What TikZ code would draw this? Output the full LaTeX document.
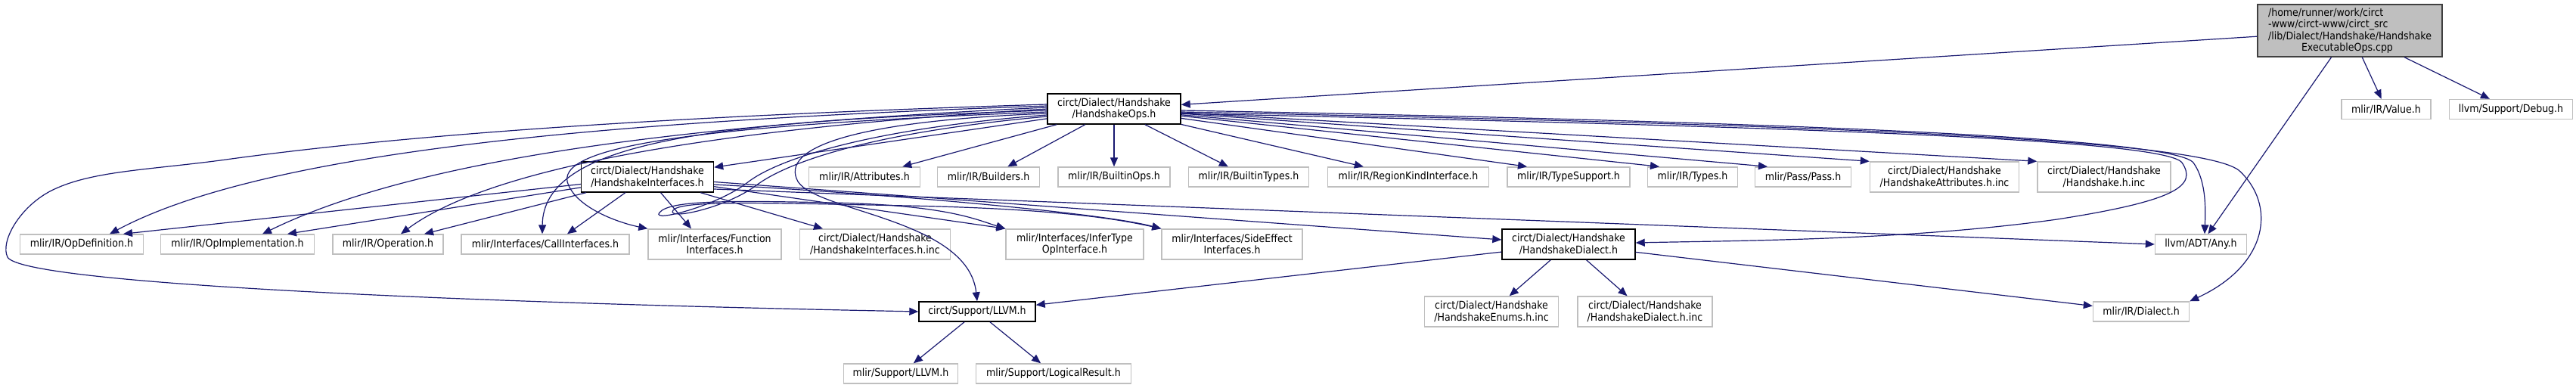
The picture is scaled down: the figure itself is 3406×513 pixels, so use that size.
\documentclass[tikz,border=0pt]{standalone}
\usepackage{fontspec}
\setmainfont{DejaVu Sans Condensed}
\usetikzlibrary{arrows.meta,calc}
\definecolor{edgeblue}{HTML}{191970}
\definecolor{extgray}{HTML}{BFBFBF}
\definecolor{rootgray}{HTML}{BFBFBF}
\definecolor{rootline}{HTML}{404040}

\begin{document}
\begin{tikzpicture}[x=1pt,y=-1pt,font=\fontsize{14}{15.5}\selectfont,
box/.style={draw,line width=1.4pt,inner sep=0pt,align=center,fill=white,minimum height=26},
cur/.style={box,fill=rootgray,draw=rootline},
doc/.style={box,draw=black,minimum height=40},
ext/.style={box,draw=extgray},
ext2/.style={ext,minimum height=40},
dep/.style={draw=edgeblue,line width=1.2pt,-{Triangle[length=12pt,width=10pt]}}]
\useasboundingbox (0,0) rectangle (3406,513);
% file nodes
\node[cur,minimum width=244,minimum height=69,align=left] (root) at (3107,40.5) {/home/runner/work/circt\\-www/circt-www/circt\_src\\/lib/Dialect/Handshake/Handshake\\\hspace*{44pt}ExecutableOps.cpp};
\node[doc,minimum width=176] (ops) at (1473,144) {circt/Dialect/Handshake\\/HandshakeOps.h};
\node[doc,minimum width=175] (hif) at (856,234) {circt/Dialect/Handshake\\/HandshakeInterfaces.h};
\node[doc,minimum width=176] (hdial) at (2074,323) {circt/Dialect/Handshake\\/HandshakeDialect.h};
\node[doc,minimum width=154,minimum height=26] (cllvm) at (1292,412) {circt/Support/LLVM.h};
\foreach \n/\x/\y/\w/\t in {value/3155/144.5/118/{mlir/IR/Value.h},debug/3320/144.5/163/{llvm/Support/Debug.h},
  attr/1143/234/147/{mlir/IR/Attributes.h},builders/1307/234/135/{mlir/IR/Builders.h},bops/1473/234/148/{mlir/IR/BuiltinOps.h},
  btypes/1651/234/159/{mlir/IR/BuiltinTypes.h},rki/1862/234/213/{mlir/IR/RegionKindInterface.h},tsup/2074/234/162/{mlir/IR/TypeSupport.h},
  types/2238/234/119/{mlir/IR/Types.h},pass/2384/234/127/{mlir/Pass/Pass.h},
  opdef/108/323/163/{mlir/IR/OpDefinition.h},opimpl/314/323/203/{mlir/IR/OpImplementation.h},oper/513/323/146/{mlir/IR/Operation.h},
  call/721/323/222/{mlir/Interfaces/CallInterfaces.h},anyh/2910/323/121/{llvm/ADT/Any.h},dialect/2831/412/127/{mlir/IR/Dialect.h},
  mllvm/1191/494/151/{mlir/Support/LLVM.h},lres/1393/494/205/{mlir/Support/LogicalResult.h}}
  {\node[ext,minimum width=\w] (\n) at (\x,\y) {\t};}
\foreach \n/\x/\y/\w/\t in {hattr/2571/234/197/{circt/Dialect/Handshake\\/HandshakeAttributes.h.inc},hinc/2782/234/176/{circt/Dialect/Handshake\\/Handshake.h.inc},
  func/945/323/176/{mlir/Interfaces/Function\\Interfaces.h},hifinc/1157/323/199/{circt/Dialect/Handshake\\/HandshakeInterfaces.h.inc},
  infer/1421/323/182/{mlir/Interfaces/InferType\\OpInterface.h},side/1629/323/186/{mlir/Interfaces/SideEffect\\Interfaces.h},
  henum/1972/412/177/{circt/Dialect/Handshake\\/HandshakeEnums.h.inc},hdinc/2175/412/178/{circt/Dialect/Handshake\\/HandshakeDialect.h.inc}}
  {\node[ext2,minimum width=\w] (\n) at (\x,\y) {\t};}
% straight includes
\foreach \a/\b in {root/ops,root/value,root/debug,root/anyh,ops/hif,ops/attr,ops/builders,ops/bops,ops/btypes,ops/rki,
  hdial/cllvm,hdial/henum,hdial/hdinc,hdial/dialect,cllvm/mllvm,cllvm/lres}
  {\draw[dep] (\a) -- (\b);}
\draw[dep] (ops) -- ($(tsup.north)+(-55,0)$);
\draw[dep] (ops) -- ($(types.north)+(-44,0)$);
\draw[dep] (ops) -- ($(pass.north)+(-47,0)$);
\draw[dep] (ops) -- (hattr.north west);
\draw[dep] (ops) -- (hinc.north west);
% HandshakeOps.h, routed round the right
\draw[dep] ($(ops.east)+(0,2)$) .. controls (2300,160) and (2870,180) .. (2900,215) .. controls (2918,240) and (2916,280) .. ($(anyh.north)+(5,0)$);
\draw[dep] ($(ops.east)+(0,4)$) .. controls (2300,163) and (2900,180) .. (2960,225) .. controls (3010,270) and (3000,350) .. (dialect.north east);
\draw[dep] ($(ops.east)+(0,6)$) .. controls (2300,166) and (2860,182) .. (2885,215) .. controls (2905,245) and (2880,265) .. (2720,290) .. controls (2520,318) and (2300,318) .. ($(hdial.east)+(0,-2)$);
% HandshakeOps.h, routed round the left
\draw[dep] ($(ops.west)+(0,-6)$) .. controls (1000,150) and (600,170) .. (306,210) .. controls (200,225) and (120,225) .. (66,253) .. controls (25,275) and (0,320) .. (10,340) .. controls (30,375) and (600,400) .. (cllvm.west);
\draw[dep] ($(ops.west)+(0,-4)$) .. controls (800,160) and (350,200) .. ($(opdef.north)+(37,0)$);
\draw[dep] ($(ops.west)+(0,-2)$) .. controls (900,165) and (550,210) .. ($(opimpl.north)+(33,0)$);
\draw[dep] (ops.west) .. controls (950,170) and (650,220) .. ($(oper.north)+(17,0)$);
\draw[dep] ($(ops.west)+(0,2)$) .. controls (950,160) and (718,185) .. ($(call.north)+(-4,0)$);
\draw[dep] ($(ops.west)+(0,4)$) .. controls (950,165) and (740,190) .. (750,240) .. controls (760,275) and (820,295) .. (func.north west);
\draw[dep] ($(ops.west)+(0,6)$) .. controls (1130,160) and (1030,195) .. (1055,240) .. controls (1080,280) and (1280,290) .. (cllvm.north);
\draw[dep] ($(ops.west)+(0,8)$) .. controls (1150,170) and (1030,210) .. (990,240) .. controls (950,272) and (860,295) .. (872,281) .. controls (885,265) and (960,265) .. (1100,268) .. controls (1250,271) and (1290,290) .. (infer.north west);
\draw[dep] ($(ops.west)+(0,10)$) .. controls (1150,175) and (1040,215) .. (1000,245) .. controls (960,275) and (880,292) .. (890,278) .. controls (900,265) and (1000,268) .. (1200,272) .. controls (1400,276) and (1480,290) .. (side.north west);
% HandshakeInterfaces.h
\draw[dep] (hif) -- ($(opdef.north)+(55,0)$);
\draw[dep] (hif) -- ($(opimpl.north)+(66,0)$);
\draw[dep] (hif) -- ($(oper.north)+(48,0)$);
\draw[dep] (hif) -- ($(call.north)+(29,0)$);
\draw[dep] (hif) -- ($(func.north)+(-31,0)$);
\draw[dep] (hif) -- ($(hifinc.north)+(-69,0)$);
\draw[dep] (hif) -- (infer.north west);
\draw[dep] ($(hif.east)+(0,10)$) .. controls (1150,255) and (1450,280) .. (side.north west);
\draw[dep] (hif) -- ($(hdial.west)+(0,-6)$);
\draw[dep] ($(hif.east)+(0,16)$) -- (anyh.west);
\end{tikzpicture}
\end{document}
